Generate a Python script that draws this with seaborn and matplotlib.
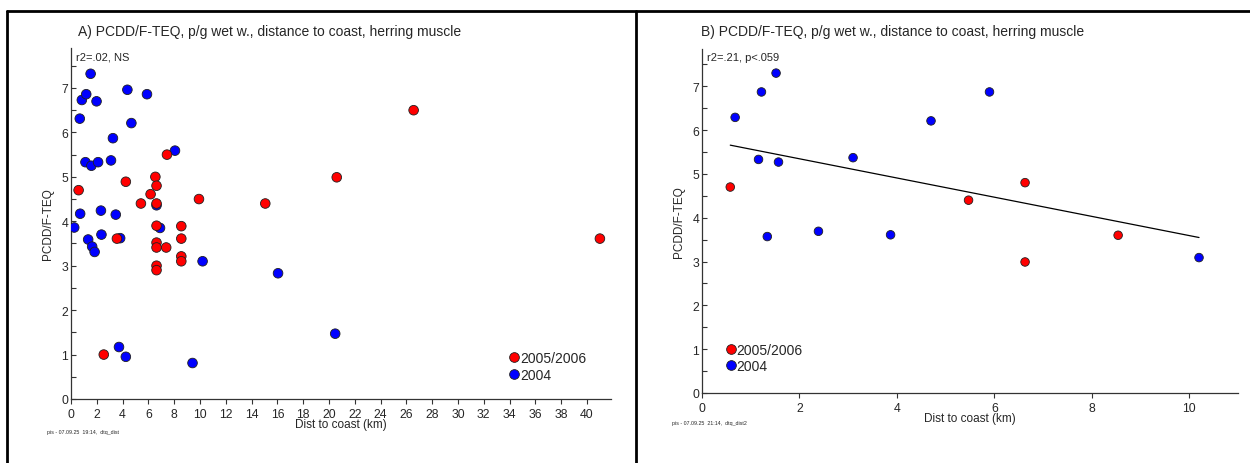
import matplotlib
matplotlib.use("Agg")
import matplotlib.pyplot as plt
import seaborn as sns
import pandas as pd
from matplotlib.lines import Line2D
from matplotlib.ticker import MultipleLocator

# ---------------- data ----------------
# Panel A: all stations
a_2004_dist = [0.25, 0.68, 0.71, 0.84, 1.12, 1.18, 1.33, 1.52, 1.58, 1.64, 1.83,
               1.98, 2.10, 2.32, 2.36, 3.10, 3.25, 3.47, 3.72, 3.81, 4.25, 4.37,
               4.68, 5.89, 6.63, 6.90, 8.06, 9.42, 10.20, 16.05, 20.48]
a_2004_teq = [3.86, 6.31, 4.17, 6.73, 5.33, 6.86, 3.59, 7.32, 5.25, 3.43, 3.31,
              6.70, 5.33, 4.24, 3.70, 5.37, 5.87, 4.15, 1.17, 3.62, 0.95, 6.96,
              6.21, 6.86, 4.36, 3.85, 5.59, 0.81, 3.10, 2.83, 1.47]
a_0506_dist = [0.59, 2.54, 3.56, 4.25, 5.42, 6.17, 6.54, 6.63, 6.63, 6.63, 6.63,
               6.63, 6.63, 6.63, 7.38, 7.44, 8.55, 8.55, 8.55, 8.55, 9.92, 15.06,
               20.60, 26.56, 41.00]
a_0506_teq = [4.70, 1.00, 3.61, 4.89, 4.40, 4.61, 5.00, 4.80, 4.40, 3.90, 3.52,
              3.41, 3.00, 2.90, 3.41, 5.50, 3.89, 3.61, 3.21, 3.10, 4.50, 4.40,
              4.99, 6.50, 3.61]

# Panel B: subset of stations
b_2004_dist = [0.68, 1.16, 1.22, 1.34, 1.52, 1.57, 2.39, 3.10, 3.87, 4.70, 5.90, 10.20]
b_2004_teq = [6.29, 5.33, 6.87, 3.57, 7.30, 5.27, 3.69, 5.37, 3.61, 6.21, 6.87, 3.09]
b_0506_dist = [0.58, 5.47, 6.63, 6.63, 8.54]
b_0506_teq = [4.70, 4.40, 4.80, 2.99, 3.60]

years = ["2004", "2005/2006"]
legend_order = ["2005/2006", "2004"]
colors = {"2004": "#0000ff", "2005/2006": "#ff0000"}

title_a = "A) PCDD/F-TEQ, p/g wet w., distance to coast, herring muscle"
title_b = "B) PCDD/F-TEQ, p/g wet w., distance to coast, herring muscle"
stat_a = "r2=.02, NS"
stat_b = "r2=.21, p<.059"
foot_a = "pis - 07.09.25  19:14,  dtq_dist"
foot_b = "pis - 07.09.25  21:14,  dtq_dist2"
xlabel = "Dist to coast (km)"
ylabel = "PCDD/F-TEQ"

dfA = pd.concat([
    pd.DataFrame({"dist": a_2004_dist, "teq": a_2004_teq, "year": "2004"}),
    pd.DataFrame({"dist": a_0506_dist, "teq": a_0506_teq, "year": "2005/2006"}),
], ignore_index=True)
dfB = pd.concat([
    pd.DataFrame({"dist": b_2004_dist, "teq": b_2004_teq, "year": "2004"}),
    pd.DataFrame({"dist": b_0506_dist, "teq": b_0506_teq, "year": "2005/2006"}),
], ignore_index=True)

# ---------------- style ----------------
sns.set_style("ticks")
plt.rcParams["font.family"] = ["Liberation Sans", "DejaVu Sans"]

W, H = 1250, 464
fig = plt.figure(figsize=(W / 100, H / 100), dpi=100)
axA = fig.add_axes([71 / W, 1 - 400 / H, 540 / W, 351 / H])
axB = fig.add_axes([702 / W, 1 - 394 / H, 536 / W, 344 / H])

sns.scatterplot(data=dfA, x="dist", y="teq", hue="year", hue_order=years,
                palette=colors, s=48, edgecolor="#202020", linewidth=0.6,
                legend=False, ax=axA, zorder=3)
sns.regplot(data=dfB, x="dist", y="teq", scatter=False, ci=None, truncate=True,
            line_kws=dict(color="black", lw=0.9), ax=axB)
sns.scatterplot(data=dfB, x="dist", y="teq", hue="year", hue_order=years,
                palette=colors, s=38, edgecolor="#202020", linewidth=0.6,
                legend=False, ax=axB, zorder=3)

axA.set_xlim(0, 41.86)
axA.set_ylim(0, 7.9)
axA.set_xticks(range(0, 41, 2))
axB.set_xlim(0, 11)
axB.set_ylim(0, 7.85)
axB.set_xticks(range(0, 11, 2))

for ax in (axA, axB):
    sns.despine(ax=ax)
    for sp in ("left", "bottom"):
        ax.spines[sp].set_color("#333333")
        ax.spines[sp].set_linewidth(0.9)
    ax.set_yticks(range(0, 8))
    ax.yaxis.set_minor_locator(MultipleLocator(0.5))
    ax.tick_params(axis="x", which="major", direction="out", length=3.6,
                   width=0.8, color="#333333", labelsize=8.8, pad=3)
    ax.tick_params(axis="x", which="minor", length=0)
    ax.tick_params(axis="y", which="both", direction="in", length=3.6,
                   width=0.8, color="#333333", labelsize=8.8, pad=2)
    ax.set_xlabel(xlabel, fontsize=8.5, labelpad=-1.5)
    ax.set_ylabel(ylabel, fontsize=8.5, labelpad=5)

def make_legend(ax, anchor, spacing):
    handles = [Line2D([], [], marker="o", ls="none", markersize=7,
                      markerfacecolor=colors[y], markeredgecolor="#202020",
                      markeredgewidth=0.6, label=y) for y in legend_order]
    ax.legend(handles=handles, loc="center left", bbox_to_anchor=anchor,
              frameon=False, borderpad=0, borderaxespad=0, handlelength=0.8,
              handletextpad=0.0, labelspacing=spacing, fontsize=10)

make_legend(axA, (0.811, 0.092), 0.2)
make_legend(axB, (0.0433, 0.101), 0.15)

axA.text(0.009, 0.977, stat_a, transform=axA.transAxes, fontsize=8,
         ha="left", va="center")
axB.text(0.009, 0.977, stat_b, transform=axB.transAxes, fontsize=8,
         ha="left", va="center")

fig.text(78 / W, 1 - 32 / H, title_a, fontsize=10, ha="left", va="center")
fig.text(701 / W, 1 - 32 / H, title_b, fontsize=10, ha="left", va="center")
fig.text(47 / W, 1 - 433 / H, foot_a, fontsize=3.8, ha="left", va="center")
fig.text(672 / W, 1 - 424 / H, foot_b, fontsize=3.8, ha="left", va="center")

# panel frame lines
lw = 2.0
fig.add_artist(Line2D([7 / W, 1], [1 - 12 / H, 1 - 12 / H],
                      transform=fig.transFigure, color="black", lw=lw))
fig.add_artist(Line2D([7 / W, 7 / W], [0, 1 - 12 / H],
                      transform=fig.transFigure, color="black", lw=lw))
fig.add_artist(Line2D([636 / W, 636 / W], [0, 1 - 12 / H],
                      transform=fig.transFigure, color="black", lw=lw))

fig.savefig("out.png", dpi=100)
